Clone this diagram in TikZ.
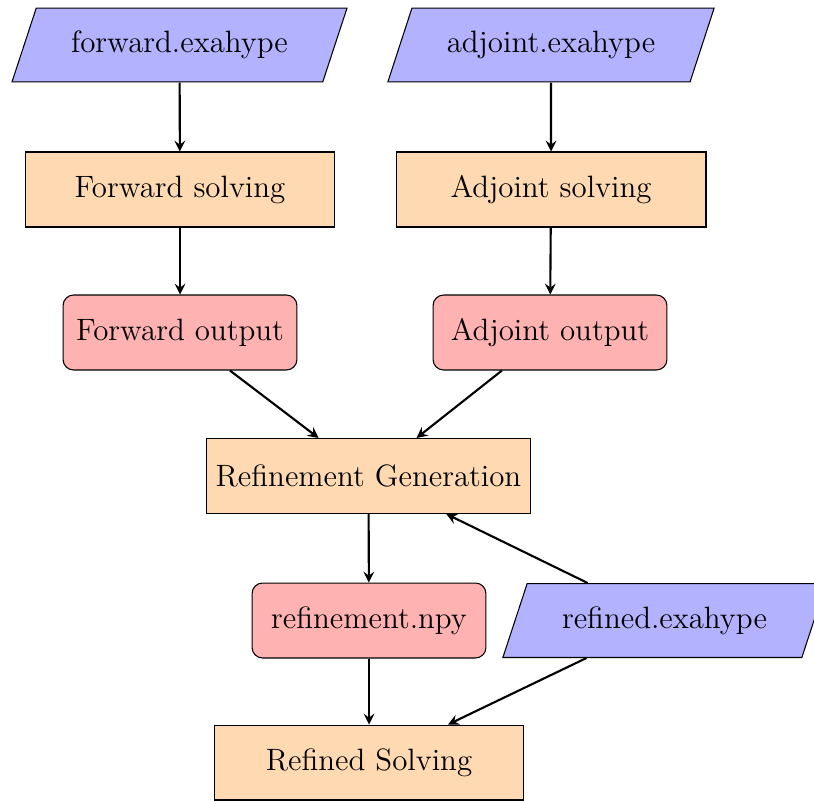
\documentclass[tikz,border=0pt]{standalone}
\usetikzlibrary{shapes.geometric,arrows}
\begin{document}
\begin{tikzpicture}[x=0.3788pt,y=-0.3788pt,
  font=\fontsize{11.7}{14}\selectfont,
  io/.style={trapezium, trapezium left angle=62, trapezium right angle=118,
    trapezium stretches body=true, minimum height=28pt, inner xsep=13.2pt,
    draw=black, fill=blue!30},
  process/.style={rectangle, minimum width=117.4pt, minimum height=28.4pt,
    draw=black, fill=orange!30},
  outbox/.style={rectangle, rounded corners, minimum width=88.6pt, minimum height=28.4pt,
    draw=black, fill=red!30},
  arrow/.style={thick,->,>=stealth}]
\useasboundingbox (0,0) rectangle (814,800);
\clip (0,0) rectangle (814,800);
\node[io] (fe) at (179.5,45) {forward.exahype};
\node[io] (ae) at (551,45) {adjoint.exahype};
\node[process] (fs) at (180,189.5) {Forward solving};
\node[process] (as) at (551,189.5) {Adjoint solving};
\node[outbox] (fo) at (180,332.5) {Forward output};
\node[outbox] (ao) at (550,332.5) {Adjoint output};
\node[process] (rg) at (368.5,476) {Refinement Generation};
\node[outbox] (rn) at (369,620.5) {refinement.npy};
\node[io] (re) at (664.5,620.5) {refined.exahype};
\node[process] (rs) at (369,762.5) {Refined Solving};
\draw[arrow] (fe) -- (fs);
\draw[arrow] (ae) -- (as);
\draw[arrow] (fs) -- (fo);
\draw[arrow] (as) -- (ao);
\draw[arrow] (fo) -- (rg);
\draw[arrow] (ao) -- (rg);
\draw[arrow] (rg) -- (rn);
\draw[arrow] (re) -- (rg);
\draw[arrow] (rn) -- (rs);
\draw[arrow] (re) -- (rs);
\end{tikzpicture}
\end{document}
